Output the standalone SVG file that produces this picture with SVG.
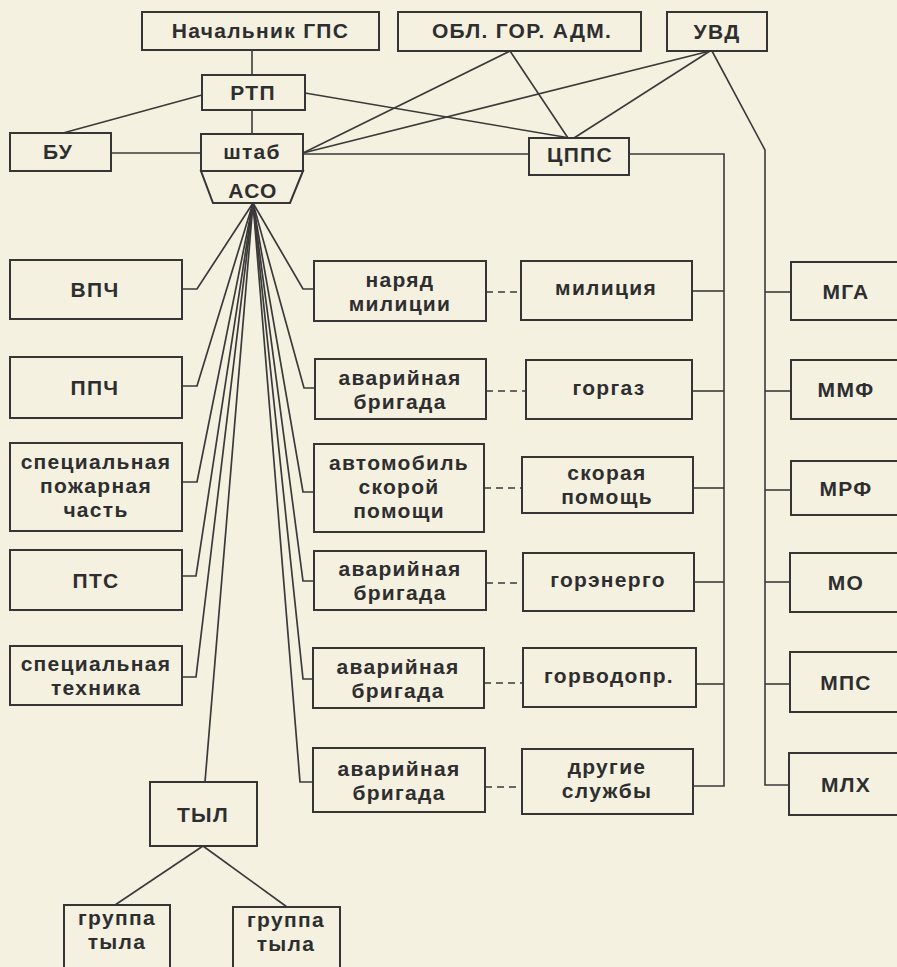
<svg xmlns="http://www.w3.org/2000/svg" width="897" height="967" viewBox="0 0 897 967">
<defs>
<style>
.bg{fill:#f5f1e1}
.box{fill:#f5f1e1;stroke:#353535;stroke-width:2}
.t{font-family:"Liberation Sans",Arial,sans-serif;font-weight:bold;font-size:21px;fill:#2e2e2e;text-anchor:middle;letter-spacing:1.3px}
.ln{fill:none;stroke:#3a3a3a;stroke-width:1.6}
.fan{fill:none;stroke:#3a3a3a;stroke-width:1.7}
.dash{fill:none;stroke:#3a3a3a;stroke-width:1.6;stroke-dasharray:7 5}
</style>
</defs>
<rect class="bg" x="0" y="0" width="897" height="967"/>

<g id="connectors">
<line class="ln" x1="252" y1="50" x2="252" y2="75"/>
<line class="ln" x1="252" y1="110" x2="252" y2="134"/>
<line class="ln" x1="202" y1="95" x2="63" y2="133"/>
<line class="ln" x1="111" y1="153" x2="201" y2="153"/>
<line class="ln" x1="303" y1="154" x2="529" y2="154"/>
<line class="ln" x1="305" y1="93" x2="570" y2="138"/>
<line class="ln" x1="303" y1="153" x2="510" y2="51"/>
<line class="ln" x1="303" y1="153" x2="710" y2="51"/>
<line class="ln" x1="510" y1="51" x2="568" y2="138"/>
<line class="ln" x1="710" y1="51" x2="574" y2="138"/>
<polyline class="ln" points="712,51 765,150 765,785 789,785"/>
<polyline class="ln" points="629,154 724,154 724,786 693,786"/>
<line class="ln" x1="692" y1="291" x2="724" y2="291"/>
<line class="ln" x1="692" y1="391" x2="724" y2="391"/>
<line class="ln" x1="693" y1="488" x2="724" y2="488"/>
<line class="ln" x1="694" y1="582" x2="724" y2="582"/>
<line class="ln" x1="696" y1="684" x2="724" y2="684"/>
<line class="ln" x1="765" y1="292" x2="791" y2="292"/>
<line class="ln" x1="765" y1="391" x2="791" y2="391"/>
<line class="ln" x1="765" y1="490" x2="791" y2="490"/>
<line class="ln" x1="765" y1="582" x2="790" y2="582"/>
<line class="ln" x1="765" y1="684" x2="790" y2="684"/>
<line class="dash" x1="486" y1="292" x2="521" y2="292"/>
<line class="dash" x1="486" y1="391" x2="526" y2="391"/>
<line class="dash" x1="484" y1="488" x2="522" y2="488"/>
<line class="dash" x1="486" y1="583" x2="523" y2="583"/>
<line class="dash" x1="484" y1="683" x2="523" y2="683"/>
<line class="dash" x1="485" y1="787" x2="522" y2="787"/>
<polyline class="fan" points="182,289 197,289 253,203"/>
<polyline class="fan" points="182,386 197,386 253,203"/>
<polyline class="fan" points="182,482 197,482 253,203"/>
<polyline class="fan" points="182,576 196,576 253,203"/>
<polyline class="fan" points="182,677 196,677 253,203"/>
<polyline class="fan" points="205,782 253,203"/>
<polyline class="fan" points="314,289 303,289 253,203"/>
<polyline class="fan" points="315,388 304,388 253,203"/>
<polyline class="fan" points="314,492 303,492 253,203"/>
<polyline class="fan" points="314,581 303,581 253,203"/>
<polyline class="fan" points="313,679 303,679 253,203"/>
<polyline class="fan" points="313,782 300,782 253,203"/>
<line class="ln" x1="203" y1="846" x2="115" y2="905"/>
<line class="ln" x1="203" y1="846" x2="287" y2="907"/>
</g>

<g id="nachalnik"><rect class="box" x="142" y="12" width="237" height="38"/><text class="t" x="260.5" y="38" letter-spacing="1">Начальник ГПС</text></g>
<g id="obl"><rect class="box" x="398" y="12" width="243" height="39"/><text class="t" x="522" y="38" letter-spacing="4.5">ОБЛ. ГОР. АДМ.</text></g>
<g id="uvd"><rect class="box" x="667" y="12" width="100" height="39"/><text class="t" x="717" y="39" letter-spacing="3.5">УВД</text></g>
<g id="rtp"><rect class="box" x="202" y="75" width="103" height="35"/><text class="t" x="253" y="100">РТП</text></g>
<g id="bu"><rect class="box" x="10" y="133" width="101" height="38"/><text class="t" x="58" y="159">БУ</text></g>
<g id="shtab"><rect class="box" x="201" y="134" width="102" height="37"/><text class="t" x="252" y="159">штаб</text></g>
<g id="aso"><polygon class="box" points="201,171 303,171 290,203 213,203"/><text class="t" x="253" y="198">АСО</text></g>
<g id="cpps"><rect class="box" x="529" y="138" width="100" height="37"/><text class="t" x="580" y="162">ЦППС</text></g>

<g id="vpch"><rect class="box" x="10" y="260" width="172" height="59"/><text class="t" x="95" y="297">ВПЧ</text></g>
<g id="ppch"><rect class="box" x="10" y="357" width="172" height="61"/><text class="t" x="95" y="395">ППЧ</text></g>
<g id="spch"><rect class="box" x="10" y="443" width="172" height="88"/><text class="t" x="96" y="469">специальная</text><text class="t" x="96" y="493">пожарная</text><text class="t" x="96" y="517">часть</text></g>
<g id="pts"><rect class="box" x="10" y="550" width="172" height="60"/><text class="t" x="96" y="588">ПТС</text></g>
<g id="spt"><rect class="box" x="10" y="646" width="172" height="59"/><text class="t" x="96" y="671">специальная</text><text class="t" x="96" y="695">техника</text></g>
<g id="tyl"><rect class="box" x="150" y="782" width="107" height="64"/><text class="t" x="203" y="822">ТЫЛ</text></g>
<g id="gruppa1"><rect class="box" x="64" y="905" width="106" height="75"/><text class="t" x="117" y="925">группа</text><text class="t" x="117" y="949">тыла</text></g>
<g id="gruppa2"><rect class="box" x="233" y="907" width="107" height="75"/><text class="t" x="286" y="927">группа</text><text class="t" x="286" y="951">тыла</text></g>

<g id="naryad"><rect class="box" x="314" y="261" width="172" height="60"/><text class="t" x="400" y="287">наряд</text><text class="t" x="400" y="311">милиции</text></g>
<g id="avar1"><rect class="box" x="315" y="359" width="171" height="60"/><text class="t" x="400" y="385">аварийная</text><text class="t" x="400" y="409">бригада</text></g>
<g id="avto"><rect class="box" x="314" y="444" width="170" height="88"/><text class="t" x="399" y="470">автомобиль</text><text class="t" x="399" y="494">скорой</text><text class="t" x="399" y="518">помощи</text></g>
<g id="avar2"><rect class="box" x="314" y="551" width="172" height="59"/><text class="t" x="400" y="576">аварийная</text><text class="t" x="400" y="600">бригада</text></g>
<g id="avar3"><rect class="box" x="313" y="648" width="171" height="60"/><text class="t" x="398" y="674">аварийная</text><text class="t" x="398" y="698">бригада</text></g>
<g id="avar4"><rect class="box" x="313" y="748" width="172" height="64"/><text class="t" x="399" y="776">аварийная</text><text class="t" x="399" y="800">бригада</text></g>

<g id="miliciya"><rect class="box" x="521" y="261" width="171" height="59"/><text class="t" x="606" y="295">милиция</text></g>
<g id="gorgaz"><rect class="box" x="526" y="360" width="166" height="59"/><text class="t" x="609" y="395">горгаз</text></g>
<g id="skoraya"><rect class="box" x="522" y="457" width="171" height="56"/><text class="t" x="607" y="480">скорая</text><text class="t" x="607" y="504">помощь</text></g>
<g id="gorenergo"><rect class="box" x="523" y="553" width="171" height="58"/><text class="t" x="608" y="587">горэнерго</text></g>
<g id="gorvodopr"><rect class="box" x="523" y="648" width="173" height="59"/><text class="t" x="609" y="683">горводопр.</text></g>
<g id="drugie"><rect class="box" x="522" y="749" width="171" height="65"/><text class="t" x="607" y="774">другие</text><text class="t" x="607" y="798">службы</text></g>

<g id="mga"><rect class="box" x="791" y="262" width="110" height="58"/><text class="t" x="846" y="299">МГА</text></g>
<g id="mmf"><rect class="box" x="791" y="360" width="110" height="59"/><text class="t" x="846" y="397">ММФ</text></g>
<g id="mrf"><rect class="box" x="791" y="461" width="110" height="54"/><text class="t" x="846" y="496">МРФ</text></g>
<g id="mo"><rect class="box" x="790" y="553" width="111" height="59"/><text class="t" x="846" y="590">МО</text></g>
<g id="mps"><rect class="box" x="790" y="652" width="111" height="60"/><text class="t" x="846" y="690">МПС</text></g>
<g id="mlh"><rect class="box" x="789" y="753" width="112" height="62"/><text class="t" x="846" y="792">МЛХ</text></g>
</svg>
